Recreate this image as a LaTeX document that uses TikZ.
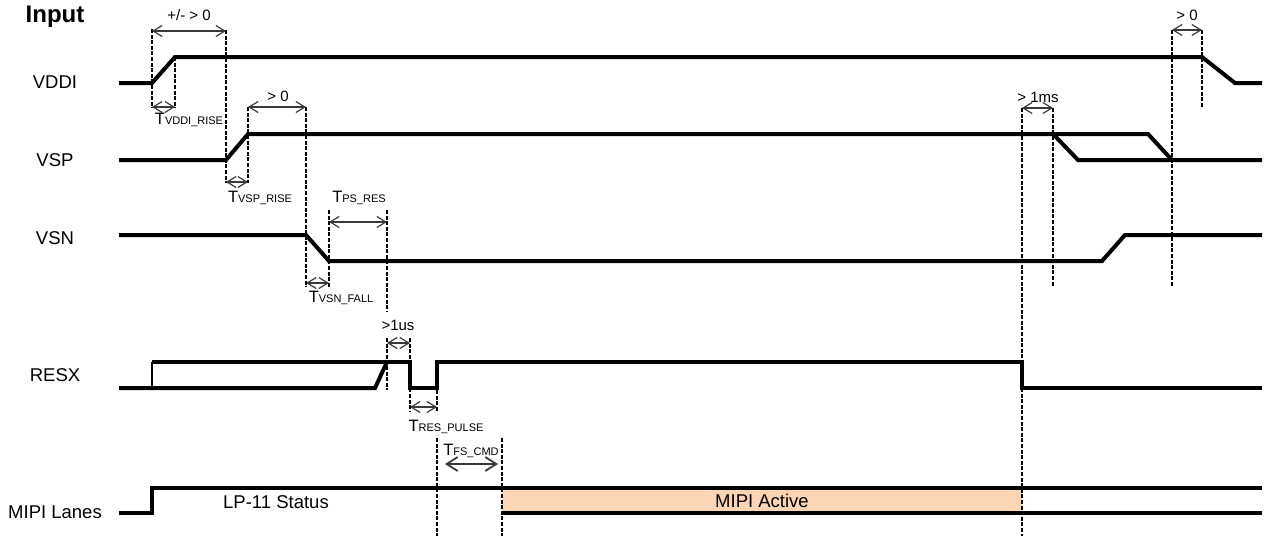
\documentclass[tikz,border=0pt]{standalone}
\usepackage{fontspec}
\setmainfont{Liberation Sans}
\usepackage{tikz}
\usetikzlibrary{arrows.meta}
\definecolor{activefill}{HTML}{FCD5B4}
\definecolor{dimgray}{HTML}{3A3A3A}
\newcommand{\tpar}[1]{{\fontsize{16.5}{16}\selectfont T}{\fontsize{11}{11}\selectfont #1}}

\begin{document}
\begin{tikzpicture}[
    x=1pt, y=-1pt,
    sig/.style={line width=4pt, line join=miter},
    guide/.style={line width=2pt, dash pattern=on 4pt off 1.6pt},
    dim/.style={
      {Straight Barb[length=9pt,width=11pt]}-{Straight Barb[length=9pt,width=11pt]},
      line width=1.2pt, draw=dimgray
    },
    bigdim/.style={
      {Straight Barb[length=11pt,width=14pt]}-{Straight Barb[length=11pt,width=14pt]},
      line width=1.8pt, draw=dimgray
    },
    lbl/.style={font={\fontsize{18.5}{20}\selectfont}, inner sep=0pt},
    note/.style={font={\fontsize{15}{16}\selectfont}, inner sep=0pt}
  ]
  \useasboundingbox (0,0) rectangle (1264,536);

  % signal names
  \node[lbl, font={\fontsize{24}{26}\selectfont\bfseries}] (input) at (55,17) {Input};
  \node[lbl] (vddi) at (55,82)  {VDDI};
  \node[lbl] (vsp)  at (55,160) {VSP};
  \node[lbl] (vsn)  at (55,238) {VSN};
  \node[lbl] (resx) at (55,375) {RESX};
  \node[lbl] (mipi) at (55,512) {MIPI Lanes};

  % MIPI active window
  \fill[activefill] (502,488) rectangle (1022,513);
  \node[lbl] (lp11)   at (276,502) {LP-11 Status};
  \node[lbl] (active) at (762,501) {MIPI Active};

  % guide lines
  \draw[guide] (152,29)  -- (152,108);
  \draw[guide] (175,57)  -- (175,108);
  \draw[guide] (226,30)  -- (226,183);
  \draw[guide] (248,107) -- (248,183);
  \draw[guide] (306,107) -- (306,287);
  \draw[guide] (329,210) -- (329,287);
  \draw[guide] (387,210) -- (387,312);
  \draw[guide] (387,338) -- (387,390);
  \draw[guide] (410,338) -- (410,412);
  \draw[guide] (437,390) -- (437,412);
  \draw[guide] (437,438) -- (437,536);
  \draw[guide] (502,438) -- (502,536);
  \draw[guide] (1022,108) -- (1022,536);
  \draw[guide] (1053,108) -- (1053,287);
  \draw[guide] (1172,30)  -- (1172,287);
  \draw[guide] (1202,30)  -- (1202,108);

  % waveforms
  \draw[sig] (119,83) -- (152,83) -- (175,57) -- (1202,57) -- (1235,83) -- (1262,83);
  \draw[sig] (119,160) -- (226,160) -- (248,134) -- (1053,134) -- (1078,160) -- (1262,160);
  \draw[sig] (1053,134) -- (1148,134) -- (1172,160);
  \draw[sig] (119,235) -- (306,235) -- (329,261) -- (1102,261) -- (1125,235) -- (1262,235);
  \draw[sig] (119,388) -- (375,388) -- (387,362);
  \draw[line width=2pt] (152,388) -- (152,362);
  \draw[sig] (152,362) -- (410,362) -- (410,388) -- (437,388) -- (437,362)
    -- (1022,362) -- (1022,388) -- (1262,388);
  \draw[sig] (119,513) -- (152,513) -- (152,488) -- (1262,488);
  \draw[sig] (502,513) -- (1262,513);

  % timing marks
  \coordinate (vddiOn)  at (152,31);   \coordinate (vspOn)   at (226,31);
  \coordinate (riseA)   at (152,107);  \coordinate (riseB)   at (175,107);
  \coordinate (vspTop)  at (248,107);  \coordinate (vsnOn)   at (306,107);
  \coordinate (vspA)    at (226,182);  \coordinate (vspB)    at (248,182);
  \coordinate (psA)     at (329,222);  \coordinate (psB)     at (387,222);
  \coordinate (fallA)   at (306,283);  \coordinate (fallB)   at (329,283);
  \coordinate (usA)     at (387,343);  \coordinate (usB)     at (410,343);
  \coordinate (pulseA)  at (410,407);  \coordinate (pulseB)  at (437,407);
  \coordinate (cmdA)    at (445,464);  \coordinate (cmdB)    at (498,464);
  \coordinate (msA)     at (1022,108); \coordinate (msB)     at (1053,108);
  \coordinate (offA)    at (1172,30);  \coordinate (offB)    at (1202,30);

  \draw[dim] (vddiOn) -- (vspOn);
  \node[note] (seqlbl) at (189,15) {+/- > 0};
  \draw[dim] (riseA) -- (riseB);
  \node[inner sep=0pt] (trise) at (189,120) {\tpar{VDDI\_RISE}};
  \draw[dim] (vspTop) -- (vsnOn);
  \node[note] (vsnlbl) at (278,96) {> 0};
  \draw[dim] (vspA) -- (vspB);
  \node[inner sep=0pt] (tvsp) at (260,198) {\tpar{VSP\_RISE}};
  \draw[dim] (psA) -- (psB);
  \node[inner sep=0pt] (tps) at (359,198) {\tpar{PS\_RES}};
  \draw[dim] (fallA) -- (fallB);
  \node[inner sep=0pt] (tfall) at (341,298) {\tpar{VSN\_FALL}};
  \draw[dim] (usA) -- (usB);
  \node[note] (uslbl) at (398,325) {>1us};
  \draw[dim] (pulseA) -- (pulseB);
  \node[inner sep=0pt] (tpulse) at (446,427) {\tpar{RES\_PULSE}};
  \draw[bigdim] (cmdA) -- (cmdB);
  \node[inner sep=0pt] (tcmd) at (471,451) {\tpar{FS\_CMD}};
  \draw[dim] (msA) -- (msB);
  \node[note] (mslbl) at (1038,97) {> 1ms};
  \draw[dim] (offA) -- (offB);
  \node[note] (offlbl) at (1187,15) {> 0};

\end{tikzpicture}
\end{document}
